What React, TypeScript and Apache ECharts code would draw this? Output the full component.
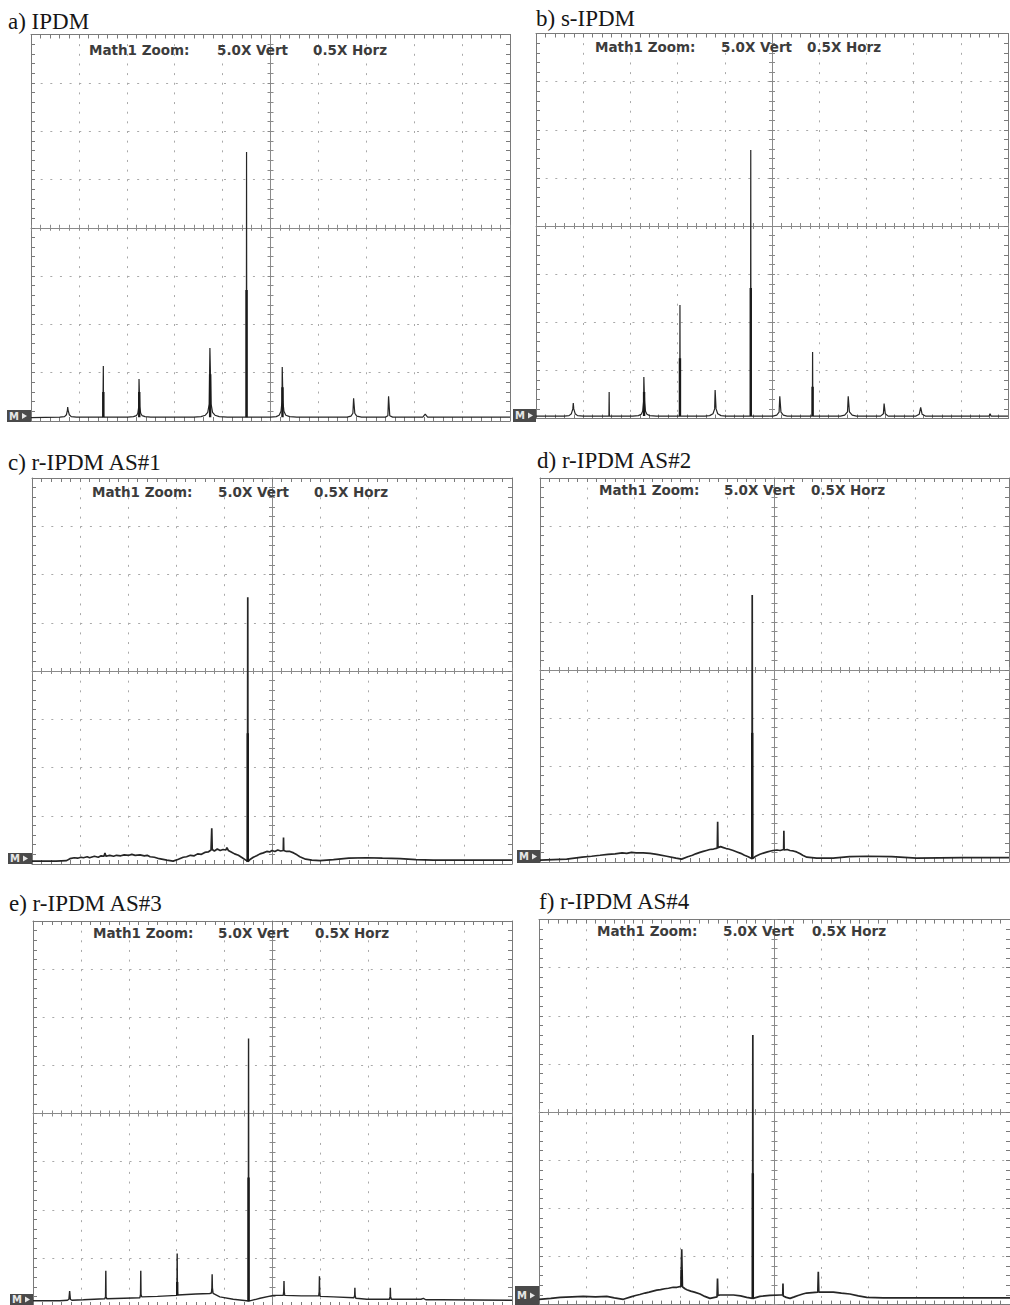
import React, { useEffect, useRef } from 'react';
import * as echarts from 'echarts';

// ---------- texts ----------
const panelTitles = ['a) IPDM', 'b) s-IPDM', 'c) r-IPDM AS#1', 'd) r-IPDM AS#2', 'e) r-IPDM AS#3', 'f) r-IPDM AS#4'];
const zoomLabels = ['Math1 Zoom:', '5.0X Vert', '0.5X Horz'];

// ---------- traces (x: divisions -5..5, y: divisions -4..4) ----------
const traceA: number[][] = [
  [-5, -3.93], [-4.4, -3.92], [-4.3, -3.91], [-4.26, -3.87], [-4.24, -3.78], [-4.234, -3.71], [-4.225, -3.78], [-4.2, -3.87], [-4.16, -3.91], [-4.05, -3.92],
  [-3.5, -3.92], [-3.49, -2.86], [-3.485, -3.92],
  [-2.98, -3.92], [-2.86, -3.91], [-2.8, -3.89], [-2.77, -3.84], [-2.75, -3.7], [-2.745, -3.13], [-2.735, -3.13], [-2.73, -3.7], [-2.71, -3.84], [-2.68, -3.89], [-2.62, -3.91], [-2.5, -3.92],
  [-1.6, -3.92], [-1.45, -3.91], [-1.36, -3.88], [-1.31, -3.82], [-1.28, -3.65], [-1.265, -2.49], [-1.255, -2.49], [-1.24, -3.65], [-1.21, -3.82], [-1.16, -3.88], [-1.07, -3.91], [-0.9, -3.92],
  [-0.505, -3.92], [-0.5, 1.57], [-0.495, -3.92],
  [0.0, -3.92], [0.12, -3.91], [0.18, -3.88], [0.22, -3.8], [0.24, -3.6], [0.245, -2.88], [0.255, -2.88], [0.26, -3.6], [0.28, -3.8], [0.32, -3.88], [0.4, -3.91], [0.55, -3.92],
  [1.6, -3.92], [1.68, -3.9], [1.72, -3.84], [1.735, -3.53], [1.745, -3.53], [1.76, -3.84], [1.8, -3.9], [1.9, -3.92],
  [2.4, -3.92], [2.45, -3.89], [2.465, -3.49], [2.475, -3.49], [2.49, -3.89], [2.55, -3.92],
  [3.18, -3.92], [3.23, -3.86], [3.28, -3.92], [5, -3.92],
];
const traceB: number[][] = [
  [-5, -3.95], [-4.4, -3.95], [-4.3, -3.94], [-4.25, -3.9], [-4.22, -3.8], [-4.21, -3.68], [-4.2, -3.8], [-4.17, -3.9], [-4.12, -3.94], [-4.0, -3.95],
  [-3.455, -3.95], [-3.45, -3.45], [-3.445, -3.95],
  [-2.95, -3.95], [-2.83, -3.94], [-2.77, -3.91], [-2.74, -3.85], [-2.72, -3.65], [-2.715, -3.14], [-2.705, -3.14], [-2.7, -3.65], [-2.68, -3.85], [-2.65, -3.91], [-2.59, -3.94], [-2.45, -3.95],
  [-1.955, -3.95], [-1.95, -1.64], [-1.945, -3.95],
  [-1.42, -3.95], [-1.32, -3.94], [-1.25, -3.9], [-1.215, -3.8], [-1.205, -3.41], [-1.195, -3.41], [-1.185, -3.8], [-1.15, -3.9], [-1.08, -3.94], [-0.98, -3.95],
  [-0.455, -3.95], [-0.45, 1.58], [-0.445, -3.95],
  [0.02, -3.95], [0.1, -3.93], [0.15, -3.87], [0.165, -3.54], [0.175, -3.54], [0.19, -3.87], [0.24, -3.93], [0.32, -3.95],
  [0.855, -3.95], [0.86, -2.62], [0.865, -3.95],
  [1.45, -3.95], [1.54, -3.93], [1.6, -3.86], [1.615, -3.54], [1.625, -3.54], [1.64, -3.86], [1.7, -3.93], [1.79, -3.95],
  [2.3, -3.95], [2.36, -3.9], [2.375, -3.69], [2.385, -3.69], [2.4, -3.9], [2.46, -3.95],
  [3.05, -3.95], [3.12, -3.91], [3.15, -3.77], [3.18, -3.91], [3.25, -3.95],
  [4.6, -3.95], [4.62, -3.9], [4.64, -3.95], [5, -3.95],
];
const traceC: number[][] = [
  [-5.0, -3.94], [-4.5, -3.94], [-4.28, -3.93], [-4.21, -3.89], [-4.12, -3.87], [-4.05, -3.88], [-3.98, -3.86], [-3.93, -3.87], [-3.85, -3.85], [-3.8, -3.87],
  [-3.7, -3.84], [-3.62, -3.86], [-3.56, -3.83], [-3.5, -3.84], [-3.48, -3.77], [-3.46, -3.84], [-3.38, -3.82], [-3.3, -3.84], [-3.24, -3.82], [-3.15, -3.83],
  [-3.08, -3.81], [-2.98, -3.82], [-2.92, -3.8], [-2.85, -3.82], [-2.75, -3.81], [-2.66, -3.83], [-2.6, -3.82], [-2.54, -3.85], [-2.45, -3.86], [-2.35, -3.89],
  [-2.19, -3.92], [-2.06, -3.94], [-1.95, -3.9], [-1.85, -3.86], [-1.78, -3.85], [-1.7, -3.82], [-1.62, -3.83], [-1.55, -3.79], [-1.47, -3.8], [-1.4, -3.76],
  [-1.33, -3.75], [-1.27, -3.71], [-1.255, -3.26], [-1.245, -3.7], [-1.2, -3.73], [-1.14, -3.69], [-1.08, -3.72], [-1.02, -3.7], [-0.96, -3.71], [-0.94, -3.66],
  [-0.91, -3.72], [-0.85, -3.75], [-0.78, -3.79], [-0.7, -3.82], [-0.62, -3.87], [-0.53, -3.93], [-0.51, -3.95], [-0.505, 1.53], [-0.5, -3.95],
  [-0.45, -3.9], [-0.39, -3.86], [-0.32, -3.83], [-0.25, -3.79], [-0.18, -3.77], [-0.11, -3.74], [-0.05, -3.75], [0.0, -3.72], [0.06, -3.74], [0.12, -3.71],
  [0.18, -3.73], [0.235, -3.72], [0.24, -3.45], [0.245, -3.72], [0.3, -3.74], [0.375, -3.74], [0.45, -3.77], [0.52, -3.81], [0.58, -3.85], [0.7, -3.9],
  [0.83, -3.92], [1.0, -3.93], [1.28, -3.91], [1.6, -3.88], [1.97, -3.87], [2.3, -3.88], [2.67, -3.89], [3.0, -3.91], [3.36, -3.92], [4.06, -3.92], [5.0, -3.92],
];
const traceD: number[][] = [
  [-5.0, -3.96], [-4.43, -3.94], [-4.1, -3.9], [-3.9, -3.88], [-3.72, -3.86], [-3.55, -3.84], [-3.4, -3.83], [-3.25, -3.81], [-3.15, -3.82], [-3.05, -3.8],
  [-2.95, -3.81], [-2.8, -3.81], [-2.65, -3.82], [-2.51, -3.84], [-2.3, -3.88], [-2.1, -3.92], [-1.98, -3.94], [-1.85, -3.89], [-1.75, -3.86], [-1.68, -3.83],
  [-1.59, -3.8], [-1.52, -3.78], [-1.45, -3.76], [-1.38, -3.74], [-1.3, -3.73], [-1.22, -3.71], [-1.212, -3.16], [-1.205, -3.7], [-1.15, -3.68], [-1.09, -3.7],
  [-1.03, -3.72], [-0.98, -3.73], [-0.88, -3.76], [-0.8, -3.79], [-0.72, -3.82], [-0.64, -3.86], [-0.56, -3.89], [-0.48, -3.93], [-0.475, 1.56], [-0.47, -3.93],
  [-0.4, -3.88], [-0.31, -3.84], [-0.22, -3.81], [-0.15, -3.79], [-0.08, -3.77], [-0.03, -3.76], [0.05, -3.75], [0.12, -3.76], [0.195, -3.74], [0.2, -3.35],
  [0.205, -3.75], [0.27, -3.74], [0.33, -3.76], [0.4, -3.77], [0.47, -3.79], [0.55, -3.83], [0.6, -3.86], [0.69, -3.9], [0.9, -3.92], [1.25, -3.92],
  [1.6, -3.89], [1.97, -3.88], [2.5, -3.89], [3.03, -3.92], [4.0, -3.91], [5.0, -3.91],
];
const traceE: number[][] = [
  [-5.0, -3.89], [-4.44, -3.89], [-4.28, -3.88], [-4.25, -3.86], [-4.235, -3.69], [-4.22, -3.86], [-4.19, -3.88], [-3.95, -3.87], [-3.5, -3.85], [-3.485, -3.8],
  [-3.48, -3.27], [-3.475, -3.8], [-3.46, -3.85], [-3.1, -3.84], [-2.77, -3.83], [-2.755, -3.76], [-2.75, -3.27], [-2.745, -3.76], [-2.73, -3.81], [-2.4, -3.8],
  [-2.0, -3.78], [-1.995, -3.7], [-1.99, -2.91], [-1.985, -3.7], [-1.98, -3.77], [-1.6, -3.75], [-1.31, -3.74], [-1.275, -3.73], [-1.265, -3.62], [-1.26, -3.34],
  [-1.255, -3.62], [-1.24, -3.74], [-1.1, -3.81], [-0.82, -3.86], [-0.54, -3.89], [-0.505, -3.9], [-0.5, 1.56], [-0.495, -3.9], [-0.26, -3.84], [0.02, -3.78],
  [0.225, -3.78], [0.235, -3.7], [0.24, -3.48], [0.245, -3.7], [0.255, -3.78], [0.6, -3.79], [0.965, -3.79], [0.975, -3.7], [0.98, -3.38], [0.985, -3.7],
  [0.995, -3.8], [1.27, -3.81], [1.7, -3.83], [1.715, -3.78], [1.72, -3.62], [1.725, -3.78], [1.74, -3.84], [1.97, -3.86], [2.44, -3.86], [2.455, -3.8],
  [2.46, -3.62], [2.465, -3.8], [2.48, -3.86], [3.1, -3.86], [3.15, -3.84], [3.2, -3.87], [3.5, -3.87], [5.0, -3.88],
];
const traceF: number[][] = [
  [-5.0, -3.89], [-4.75, -3.87], [-4.55, -3.85], [-4.3, -3.84], [-4.06, -3.83], [-3.8, -3.84], [-3.56, -3.83], [-3.4, -3.86], [-3.21, -3.89], [-3.05, -3.84],
  [-2.95, -3.81], [-2.86, -3.79], [-2.75, -3.76], [-2.66, -3.74], [-2.58, -3.72], [-2.5, -3.7], [-2.42, -3.69], [-2.33, -3.67], [-2.25, -3.66], [-2.15, -3.64],
  [-2.07, -3.64], [-1.985, -3.62], [-1.97, -2.85], [-1.955, -3.63], [-1.9, -3.67], [-1.86, -3.69], [-1.78, -3.72], [-1.7, -3.74], [-1.58, -3.78], [-1.48, -3.83],
  [-1.37, -3.87], [-1.22, -3.84], [-1.21, -3.46], [-1.2, -3.81], [-1.16, -3.8], [-1.0, -3.8], [-0.87, -3.8], [-0.72, -3.82], [-0.59, -3.85], [-0.465, -3.87],
  [-0.46, 1.6], [-0.455, -3.87], [-0.31, -3.83], [-0.1, -3.81], [0.12, -3.8], [0.175, -3.8], [0.18, -3.56], [0.185, -3.82], [0.25, -3.85], [0.33, -3.87],
  [0.42, -3.84], [0.5, -3.81], [0.6, -3.78], [0.68, -3.76], [0.8, -3.75], [0.92, -3.74], [0.93, -3.32], [0.94, -3.74], [1.1, -3.74], [1.25, -3.74],
  [1.42, -3.76], [1.6, -3.78], [1.78, -3.82], [1.96, -3.85], [2.31, -3.86], [3.5, -3.86], [5.0, -3.86],
];
const traces = [traceA, traceB, traceC, traceD, traceE, traceF];

// ---------- dense (darker) lower parts of the spikes: [x, yBottom, yTop] ----------
const coresA: number[][] = [[-3.49, -3.92, -3.4], [-2.74, -3.92, -3.4], [-1.26, -3.92, -3.03], [-0.5, -3.92, -1.29], [0.25, -3.92, -3.3]];
const coresB: number[][] = [[-2.71, -3.95, -3.45], [-1.95, -3.95, -2.75], [-0.45, -3.95, -1.29], [0.86, -3.95, -3.34]];
const coresC: number[][] = [[-0.505, -3.95, -1.29]];
const coresD: number[][] = [[-0.475, -3.93, -1.31]];
const coresE: number[][] = [[-0.5, -3.9, -1.33], [-1.99, -3.78, -3.5]];
const coresF: number[][] = [[-0.46, -3.87, -1.27], [-1.97, -3.62, -3.28]];
const cores = [coresA, coresB, coresC, coresD, coresE, coresF];

const traceWidths = [1.2, 1.2, 1.7, 1.7, 1.4, 1.7];

// ---------- layout (pixels) ----------
const grids = [
  { left: 31, top: 34.5, width: 479, height: 386.5 },
  { left: 536, top: 33.5, width: 472, height: 385 },
  { left: 32, top: 478, width: 480, height: 386 },
  { left: 540, top: 478, width: 469, height: 384 },
  { left: 33, top: 921, width: 479, height: 385 },
  { left: 539, top: 919.6, width: 471, height: 385 },
];
const titlePos = [[8, 9.7], [536, 7.4], [8, 451.4], [537, 449], [9, 892.4], [539, 889.7]];
const mathPos = [
  { xs: [89, 217, 313], base: 55 },
  { xs: [595, 721, 807], base: 51.7 },
  { xs: [92, 218, 314], base: 497 },
  { xs: [599, 724, 811], base: 495 },
  { xs: [93, 218, 315], base: 938 },
  { xs: [597, 723, 812], base: 936 },
];
const markerPos = [[7, 410, 24, 12], [513, 409, 23, 13], [8, 853, 24, 11], [517, 850, 23, 13], [10, 1294, 23, 11], [515, 1286, 24, 19]];

const BORDER = '#7a7a7a';
const DOT = '#a9a9a9';
const CENTER = '#8a8a8a';
const TRACE = '#262626';

function buildOption() {
  const xAxis: any[] = [];
  const yAxis: any[] = [];
  const series: any[] = [];
  const graphic: any[] = [];
  const title: any[] = [];

  grids.forEach((g, i) => {
    const bx = { gridIndex: i, type: 'value', min: -5, max: 5, interval: 1, axisLabel: { show: false }, splitLine: { show: false } };
    const by = { gridIndex: i, type: 'value', min: -4, max: 4, interval: 1, axisLabel: { show: false }, splitLine: { show: false } };
    const borderTick = { show: true, inside: true, length: 4, lineStyle: { color: BORDER, width: 1 } };
    const borderMinor = { show: true, splitNumber: 5, length: 4, lineStyle: { color: BORDER, width: 1 } };
    const cTick = (inside: boolean) => ({ show: true, inside, length: 3, lineStyle: { color: CENTER, width: 1 } });
    const cMinor = { show: true, splitNumber: 5, length: 3, lineStyle: { color: CENTER, width: 1 } };
    const yi = 4 * i;
    const xi = 4 * i;
    // x axes
    xAxis.push({ ...bx, position: 'bottom', axisLine: { show: true, onZero: false, lineStyle: { color: BORDER, width: 1 } }, axisTick: borderTick, minorTick: borderMinor,
      splitLine: { show: true, lineStyle: { color: DOT, width: 1, type: [2, 7.65] } } });
    xAxis.push({ ...bx, position: 'top', axisLine: { show: true, onZero: false, lineStyle: { color: BORDER, width: 1 } }, axisTick: borderTick, minorTick: borderMinor });
    xAxis.push({ ...bx, position: 'bottom', axisLine: { show: true, onZero: true, onZeroAxisIndex: yi, lineStyle: { color: CENTER, width: 1 } }, axisTick: cTick(true), minorTick: cMinor });
    xAxis.push({ ...bx, position: 'bottom', axisLine: { show: false, onZero: true, onZeroAxisIndex: yi }, axisTick: cTick(false), minorTick: cMinor });
    // y axes
    yAxis.push({ ...by, position: 'left', axisLine: { show: true, onZero: false, lineStyle: { color: BORDER, width: 1 } }, axisTick: borderTick, minorTick: borderMinor,
      splitLine: { show: true, lineStyle: { color: DOT, width: 1, type: [2, 7.65] } } });
    yAxis.push({ ...by, position: 'right', axisLine: { show: true, onZero: false, lineStyle: { color: BORDER, width: 1 } }, axisTick: borderTick, minorTick: borderMinor });
    yAxis.push({ ...by, position: 'left', axisLine: { show: true, onZero: true, onZeroAxisIndex: xi, lineStyle: { color: CENTER, width: 1 } }, axisTick: cTick(true), minorTick: cMinor });
    yAxis.push({ ...by, position: 'left', axisLine: { show: false, onZero: true, onZeroAxisIndex: xi }, axisTick: cTick(false), minorTick: cMinor });

    series.push({
      type: 'line', xAxisIndex: xi, yAxisIndex: yi, data: traces[i], showSymbol: false, symbol: 'none', silent: true,
      lineStyle: { color: TRACE, width: traceWidths[i] }, z: 5,
    });
    cores[i].forEach((c) => {
      series.push({
        type: 'line', xAxisIndex: xi, yAxisIndex: yi, data: [[c[0], c[1]], [c[0], c[2]]], showSymbol: false, symbol: 'none', silent: true,
        lineStyle: { color: '#1a1a1a', width: 2.4 }, z: 6,
      });
    });

    title.push({
      text: panelTitles[i], left: titlePos[i][0], top: titlePos[i][1], padding: 0,
      textStyle: { fontFamily: 'Liberation Serif', fontSize: 23, fontWeight: 'normal', color: '#161616' },
    });

    const mp = mathPos[i];
    zoomLabels.forEach((t, k) => {
      graphic.push({
        type: 'text', x: mp.xs[k], y: mp.base - 11.4, silent: true, z: 10,
        style: { text: t, fill: '#3c3c3c', font: 'bold 13.5px "DejaVu Sans"', verticalAlign: 'top', lineHeight: 13.5 },
      });
    });

    const m = markerPos[i];
    graphic.push({ type: 'rect', shape: { x: m[0], y: m[1], width: m[2], height: m[3] }, style: { fill: '#4a4a4a' }, silent: true, z: 10 });
    graphic.push({
      type: 'text', x: m[0] + 2, y: m[1] + m[3] / 2 - 5, silent: true, z: 11,
      style: { text: 'M', fill: '#e6e6e6', font: 'bold 10px "DejaVu Sans"', verticalAlign: 'top', lineHeight: 10 },
    });
    graphic.push({
      type: 'polygon', shape: { points: [[m[0] + 15, m[1] + m[3] / 2 - 3], [m[0] + 20, m[1] + m[3] / 2], [m[0] + 15, m[1] + m[3] / 2 + 3]] },
      style: { fill: '#e6e6e6' }, silent: true, z: 11,
    });
  });

  return {
    animation: false,
    backgroundColor: '#ffffff',
    title,
    grid: grids.map((g) => ({ left: g.left, top: g.top, width: g.width, height: g.height, containLabel: false, outerBoundsMode: 'none', show: false })),
    xAxis,
    yAxis,
    series,
    graphic,
  };
}

export default function App() {
  const ref = useRef<HTMLDivElement>(null);
  useEffect(() => {
    if (!ref.current) return;
    const chart = echarts.init(ref.current, undefined, { renderer: 'svg' });
    chart.setOption(buildOption() as any);
    return () => chart.dispose();
  }, []);
  return <div ref={ref} style={{ position: 'absolute', left: 0, top: 0, width: 1010, height: 1305, background: '#fff' }} />;
}
